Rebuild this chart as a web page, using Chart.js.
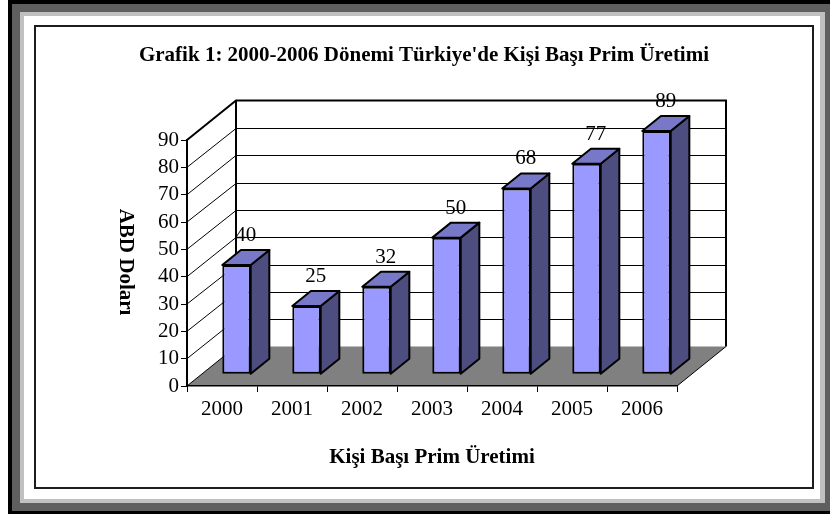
<!DOCTYPE html>
<html>
<head>
<meta charset="utf-8">
<script src="https://cdn.jsdelivr.net/npm/chart.js@4.4.1/dist/chart.umd.min.js"></script>
<style>
  html, body { margin: 0; padding: 0; background: #fff; }
  .stage { position: relative; width: 830px; height: 514px; overflow: hidden; }
  .band { position: absolute; }
  .black { left: 8px; top: 0; right: 0; bottom: 0; background: #000; }
  .dark { left: 12px; top: 4px; right: 0; bottom: 3px; background: #5f5f5f; }
  .light { left: 20px; top: 12px; right: 5px; bottom: 11px; background: #c0c0c0; }
  .paper { left: 24px; top: 16px; right: 10px; bottom: 15px; background: #fff; }
  .frame { left: 34px; top: 25px; width: 780px; height: 464px; box-sizing: border-box; border: 2px solid #1c1c1c; }
  canvas { position: absolute; left: 0; top: 0; }
</style>
</head>
<body>
<div class="stage">
  <div class="band black"></div>
  <div class="band dark"></div>
  <div class="band light"></div>
  <div class="band paper"></div>
  <div class="band frame"></div>
  <canvas id="chart" width="830" height="514"></canvas>
</div>
<script>
const years = ["2000", "2001", "2002", "2003", "2004", "2005", "2006"];
const premiumPerPerson = [40, 25, 32, 50, 68, 77, 89];
const yTickValues = [0, 10, 20, 30, 40, 50, 60, 70, 80, 90];

const titleText = "Grafik 1: 2000-2006 Dönemi Türkiye'de Kişi Başı Prim Üretimi";
const xTitleText = "Kişi Başı Prim Üretimi";
const yTitleText = "ABD Doları";

const serif = "'Liberation Serif', 'Times New Roman', serif";

// 3d look: how far the back wall sits from the front axes
const DEPTH_X = 49;
const DEPTH_Y = -39.5;
// bars sit between these fractions of the floor depth
const BAR_FRONT = 0.296;
const BAR_BACK = 0.676;

const frontColour = "#9999ff";
const sideColour = "#4d4d80";
const topColour = "#7878c8";
const floorColour = "#808080";

const scene3d = {
  id: "scene3d",
  beforeDraw(chart) {
    const { ctx, chartArea: a, scales } = chart;
    const y = scales.y;
    const bx = a.left + DEPTH_X;
    const rx = a.right + DEPTH_X;
    ctx.save();

    // walls
    ctx.fillStyle = "#fff";
    ctx.beginPath();
    ctx.moveTo(a.left, a.top);
    ctx.lineTo(bx, a.top + DEPTH_Y);
    ctx.lineTo(bx, a.bottom + DEPTH_Y);
    ctx.lineTo(a.left, a.bottom);
    ctx.closePath();
    ctx.fill();
    ctx.fillRect(bx, a.top + DEPTH_Y, a.right - a.left, a.bottom - a.top);

    // gridlines on side and back wall
    ctx.strokeStyle = "#000";
    ctx.lineWidth = 1;
    yTickValues.slice(1, -1).forEach(v => {
      const py = y.getPixelForValue(v);
      const back = Math.round(py + DEPTH_Y) + 0.5;
      ctx.beginPath();
      ctx.moveTo(a.left, py);
      ctx.lineTo(bx, back);
      ctx.lineTo(rx, back);
      ctx.stroke();
    });

    // floor
    ctx.fillStyle = floorColour;
    ctx.beginPath();
    ctx.moveTo(a.left, a.bottom);
    ctx.lineTo(a.right, a.bottom);
    ctx.lineTo(rx, a.bottom + DEPTH_Y);
    ctx.lineTo(bx, a.bottom + DEPTH_Y);
    ctx.closePath();
    ctx.fill();
    ctx.strokeStyle = "#000";
    ctx.lineWidth = 1;
    ctx.beginPath();
    ctx.moveTo(a.left, a.bottom);
    ctx.lineTo(bx, a.bottom + DEPTH_Y);
    ctx.moveTo(a.right, a.bottom);
    ctx.lineTo(rx, a.bottom + DEPTH_Y);
    ctx.stroke();

    // wall outlines
    ctx.lineWidth = 2;
    ctx.lineJoin = "miter";
    ctx.beginPath();
    ctx.moveTo(a.left, a.top);
    ctx.lineTo(bx, a.top + DEPTH_Y);
    ctx.lineTo(rx, a.top + DEPTH_Y);
    ctx.lineTo(rx, a.bottom + DEPTH_Y);
    ctx.moveTo(bx, a.top + DEPTH_Y);
    ctx.lineTo(bx, a.bottom + DEPTH_Y);
    ctx.stroke();
    ctx.restore();
  },
  beforeDatasetsDraw(chart) {
    // front faces drawn by chart.js, pushed back into the floor
    chart.ctx.save();
    chart.ctx.translate(DEPTH_X * BAR_FRONT, DEPTH_Y * BAR_FRONT);
  },
  afterDatasetsDraw(chart) {
    const ctx = chart.ctx;
    ctx.restore();
    const ox = DEPTH_X * BAR_FRONT;
    const oy = DEPTH_Y * BAR_FRONT;
    const dx = DEPTH_X * (BAR_BACK - BAR_FRONT);
    const dy = DEPTH_Y * (BAR_BACK - BAR_FRONT);
    ctx.save();
    ctx.lineWidth = 2;
    ctx.lineJoin = "round";
    ctx.strokeStyle = "#000";
    chart.getDatasetMeta(0).data.forEach((bar, i) => {
      const left = bar.x - bar.width / 2 + ox;
      const right = bar.x + bar.width / 2 + ox;
      const top = bar.y + oy;
      const base = bar.base + oy;

      ctx.fillStyle = sideColour;
      ctx.beginPath();
      ctx.moveTo(right, top);
      ctx.lineTo(right + dx, top + dy);
      ctx.lineTo(right + dx, base + dy);
      ctx.lineTo(right, base);
      ctx.closePath();
      ctx.fill();
      ctx.stroke();

      ctx.fillStyle = topColour;
      ctx.beginPath();
      ctx.moveTo(left, top);
      ctx.lineTo(left + dx, top + dy);
      ctx.lineTo(right + dx, top + dy);
      ctx.lineTo(right, top);
      ctx.closePath();
      ctx.fill();
      ctx.stroke();

      // value label above the bar
      ctx.fillStyle = "#000";
      ctx.font = "21px " + serif;
      ctx.textAlign = "center";
      ctx.textBaseline = "alphabetic";
      ctx.fillText(String(premiumPerPerson[i]), bar.x + ox + dx / 2, top + dy - 9);
    });
    ctx.restore();
  },
  afterDraw(chart) {
    const ctx = chart.ctx;
    ctx.save();
    ctx.fillStyle = "#000";
    ctx.textAlign = "center";
    ctx.textBaseline = "alphabetic";
    ctx.font = "bold 21px " + serif;
    ctx.fillText(titleText, 424, 61);
    ctx.fillText(xTitleText, 432, 463);
    ctx.translate(125, 262);
    ctx.rotate(Math.PI / 2);
    ctx.textBaseline = "middle";
    ctx.fillText(yTitleText, 0, 0);
    ctx.restore();
  }
};

new Chart(document.getElementById("chart"), {
  type: "bar",
  data: {
    labels: years,
    datasets: [{
      data: premiumPerPerson,
      backgroundColor: frontColour,
      borderColor: "#000",
      borderWidth: 2,
      borderSkipped: false,
      barPercentage: 0.406,
      categoryPercentage: 1,
      clip: false
    }]
  },
  options: {
    responsive: false,
    animation: false,
    events: [],
    layout: { padding: { left: 0, top: 140, right: 153, bottom: 0 } },
    plugins: { legend: { display: false }, tooltip: { enabled: false } },
    scales: {
      x: {
        offset: true,
        afterFit: scale => { scale.height = 128; },
        grid: { offset: true, drawOnChartArea: false, color: "#000", tickLength: 6, lineWidth: 1 },
        border: { display: true, color: "#000", width: 1.5 },
        ticks: { color: "#000", font: { family: serif, size: 21 }, padding: 5, maxRotation: 0, autoSkip: false }
      },
      y: {
        min: 0,
        max: 90,
        afterFit: scale => { scale.width = 187; },
        afterBuildTicks: scale => { scale.ticks = yTickValues.map(v => ({ value: v })); },
        grid: { drawOnChartArea: false, color: "#000", tickLength: 6, lineWidth: 1 },
        border: { display: true, color: "#000", width: 2 },
        ticks: { color: "#000", font: { family: serif, size: 21 }, padding: 2, autoSkip: false }
      }
    }
  },
  plugins: [scene3d]
});
</script>
</body>
</html>
